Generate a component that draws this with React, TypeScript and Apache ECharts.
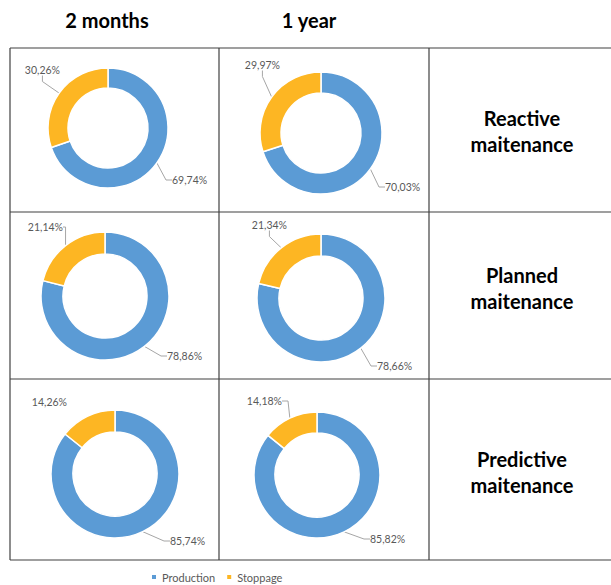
import React, { useEffect, useRef } from "react";
import * as echarts from "echarts";

const categories = ["Production", "Stoppage"];
const periods = ["2 months", "1 year"];
const strategies = ["Reactive\nmaitenance", "Planned\nmaitenance", "Predictive\nmaitenance"];
const production2m = [69.74, 78.86, 85.74];
const stoppage2m = [30.26, 21.14, 14.26];
const production1y = [70.03, 78.66, 85.82];
const stoppage1y = [29.97, 21.34, 14.18];

const colors = ["#5B9BD5", "#FDB623"];

// layout (pixels)
const cellCenters = [
  [[108, 128], [321, 133]],
  [[105, 296], [321, 298]],
  [[115, 474], [317, 475]],
];
const cellRadius = [
  [60, 61],
  [64, 64],
  [64, 63],
];
// label anchor placement per series: [production(left x, mid y), stoppage(right x, mid y)]
const labelPlaces = [
  [[172, 180], [60, 70]],
  [[385, 187], [280, 65]],
  [[167, 356], [63, 227]],
  [[377, 366], [287, 225]],
  [[170, 541], [67, 402]],
  [[370, 539], [282, 401]],
];

const fmt = (v: number) => v.toFixed(2).replace(".", ",") + "%";

export default function App() {
  const ref = useRef<HTMLDivElement>(null);
  useEffect(() => {
    if (!ref.current) return;
    const chart = echarts.init(ref.current, null, { renderer: "svg" });
    const prod = [production2m, production1y];
    const stop = [stoppage2m, stoppage1y];
    const series: any[] = [];
    for (let r = 0; r < 3; r++) {
      for (let c = 0; c < 2; c++) {
        const R = cellRadius[r][c];
        series.push({
          type: "pie",
          name: strategies[r].replace("\n", " ") + " - " + periods[c],
          center: cellCenters[r][c],
          radius: [Math.round(R * 0.66), R],
          startAngle: 90,
          clockwise: true,
          avoidLabelOverlap: false,
          itemStyle: { borderColor: "#ffffff", borderWidth: 1.5 },
          label: {
            show: true,
            position: "outside",
            formatter: (p: any) => fmt(p.value),
            fontSize: 10.5,
            color: "#595959",
            fontFamily: "Lato, 'Open Sans', sans-serif",
          },
          labelLine: {
            show: true,
            length: 12,
            length2: 6,
            lineStyle: { color: "#A6A6A6", width: 1 },
          },
          labelLayout: (p: any) => {
            const pl = labelPlaces[p.seriesIndex][p.dataIndex];
            return {
              x: pl[0],
              y: pl[1],
              align: p.dataIndex === 0 ? "left" : "right",
              verticalAlign: "middle",
            };
          },
          emphasis: { disabled: true },
          data: [
            { name: categories[0], value: prod[c][r] },
            {
              name: categories[1],
              value: stop[c][r],
              labelLine: r === 2 && c === 0 ? { show: false } : undefined,
            },
          ],
        });
      }
    }

    const lineStyle = { stroke: "#404040", lineWidth: 1.2 };
    const hLines = [48, 212, 379, 560];
    const vLines = [10, 219, 429];
    const graphic: any[] = [];
    hLines.forEach((y) =>
      graphic.push({ type: "line", shape: { x1: 10, y1: y, x2: 611, y2: y }, style: lineStyle, silent: true })
    );
    vLines.forEach((x) =>
      graphic.push({ type: "line", shape: { x1: x, y1: 48, x2: x, y2: 560 }, style: lineStyle, silent: true })
    );
    const headerX = [107, 309];
    periods.forEach((p, i) =>
      graphic.push({
        type: "text",
        x: headerX[i],
        y: 20,
        style: {
          text: p,
          fill: "#000",
          font: "bold 20px Lato, 'Open Sans', sans-serif",
          align: "center",
          verticalAlign: "middle",
        },
      })
    );
    const rowY = [131, 288, 472];
    strategies.forEach((s, i) =>
      graphic.push({
        type: "text",
        x: 522,
        y: rowY[i],
        style: {
          text: s,
          fill: "#000",
          font: "bold 20px Lato, 'Open Sans', sans-serif",
          align: "center",
          verticalAlign: "middle",
          lineHeight: 26,
        },
      })
    );

    chart.setOption({
      animation: false,
      color: colors,
      legend: {
        data: categories,
        left: 150,
        top: 571,
        padding: 0,
        icon: "rect",
        itemWidth: 6,
        itemHeight: 6,
        itemGap: 10,
        textStyle: { fontSize: 11, lineHeight: 12, color: "#595959", fontFamily: "Lato, 'Open Sans', sans-serif" },
        selectedMode: false,
      },
      graphic,
      series,
    });
    return () => chart.dispose();
  }, []);
  return (
    <div
      ref={ref}
      style={{ position: "absolute", left: 0, top: 0, width: 611, height: 585, background: "#fff" }}
    />
  );
}
